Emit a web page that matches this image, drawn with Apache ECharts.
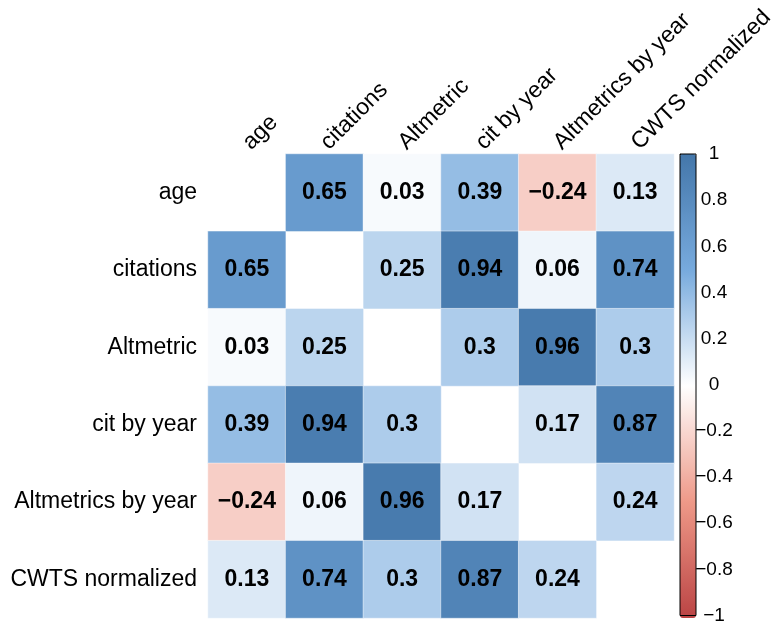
<!DOCTYPE html>
<html>
<head>
<meta charset="utf-8">
<script src="https://cdn.jsdelivr.net/npm/echarts@6/dist/echarts.min.js"></script>
<style>
  html, body { margin: 0; padding: 0; background: #fff; }
  #chart { width: 778px; height: 625px; }
</style>
</head>
<body>
<div id="chart"></div>
<script>
// Variables compared in the correlation matrix (rows top to bottom, columns left to right)
const variables = ['age', 'citations', 'Altmetric', 'cit by year', 'Altmetrics by year', 'CWTS normalized'];

// Correlation coefficients, one array per row; null on the diagonal (left blank)
const rowAge        = [null, 0.65, 0.03, 0.39, -0.24, 0.13];
const rowCitations  = [0.65, null, 0.25, 0.94, 0.06, 0.74];
const rowAltmetric  = [0.03, 0.25, null, 0.3, 0.96, 0.3];
const rowCitByYear  = [0.39, 0.94, 0.3, null, 0.17, 0.87];
const rowAltByYear  = [-0.24, 0.06, 0.96, 0.17, null, 0.24];
const rowCwts       = [0.13, 0.74, 0.3, 0.87, 0.24, null];

// Colour scale stops from -1 to 1
const scaleColors = ['#BB4444', '#EE9988', '#FFFFFF', '#77AADD', '#4477AA'];

const rows = [rowAge, rowCitations, rowAltmetric, rowCitByYear, rowAltByYear, rowCwts];

// Heatmap cells as [column, row, value]
const cells = [];
rows.forEach((row, r) => {
  row.forEach((v, c) => {
    if (v !== null) cells.push([c, r, v]);
  });
});

const fmt = v => (v < 0 ? '\u2212' + String(Math.abs(v)) : String(v));

const FONT = '"Liberation Sans", Arial, Helvetica, sans-serif';

const chart = echarts.init(document.getElementById('chart'), null, { renderer: 'canvas' });

chart.setOption({
  animation: false,
  backgroundColor: '#ffffff',
  textStyle: { fontFamily: FONT },
  grid: [
    { left: 208, top: 154, width: 466, height: 464, containLabel: false },
    { left: 680, top: 154, width: 16, height: 464, show: true, z: 10,
      backgroundColor: 'transparent', borderColor: '#000', borderWidth: 1 }
  ],
  xAxis: [
    {
      type: 'category', gridIndex: 0, data: variables, position: 'top',
      axisLine: { show: false }, axisTick: { show: false }, splitLine: { show: false },
      axisLabel: { rotate: -45, margin: 8, color: '#000', fontSize: 23, fontFamily: FONT, interval: 0 }
    },
    { type: 'value', gridIndex: 1, show: false, min: 0, max: 1 }
  ],
  yAxis: [
    {
      type: 'category', gridIndex: 0, data: variables, inverse: true,
      axisLine: { show: false }, axisTick: { show: false }, splitLine: { show: false },
      axisLabel: { margin: 11, color: '#000', fontSize: 23, fontFamily: FONT, interval: 0 }
    },
    {
      type: 'value', gridIndex: 1, position: 'right', min: -1, max: 1, interval: 0.2,
      axisLine: { show: false }, splitLine: { show: false },
      axisTick: { show: true, length: 5, lineStyle: { color: '#000', width: 1 } },
      axisLabel: {
        margin: 18, align: 'center', color: '#000', fontSize: 19, fontFamily: FONT,
        showMinLabel: true, showMaxLabel: true,
        formatter: v => fmt(Math.round(v * 10) / 10)
      }
    }
  ],
  visualMap: {
    type: 'continuous', min: -1, max: 1, seriesIndex: 0,
    orient: 'vertical', left: 680, top: 154, itemWidth: 16, itemHeight: 464,
    padding: 0, calculable: false, hoverLink: false, text: null, showLabel: false,
    inRange: { color: scaleColors }
  },
  series: [
    {
      type: 'heatmap', xAxisIndex: 0, yAxisIndex: 0, data: cells,
      itemStyle: { borderColor: 'rgba(255,255,255,0.45)', borderWidth: 1 },
      label: {
        show: true, color: '#000', fontWeight: 'bold', fontSize: 23, fontFamily: FONT,
        formatter: p => fmt(p.value[2])
      },
      emphasis: { disabled: true }
    }
  ]
});
</script>
</body>
</html>
